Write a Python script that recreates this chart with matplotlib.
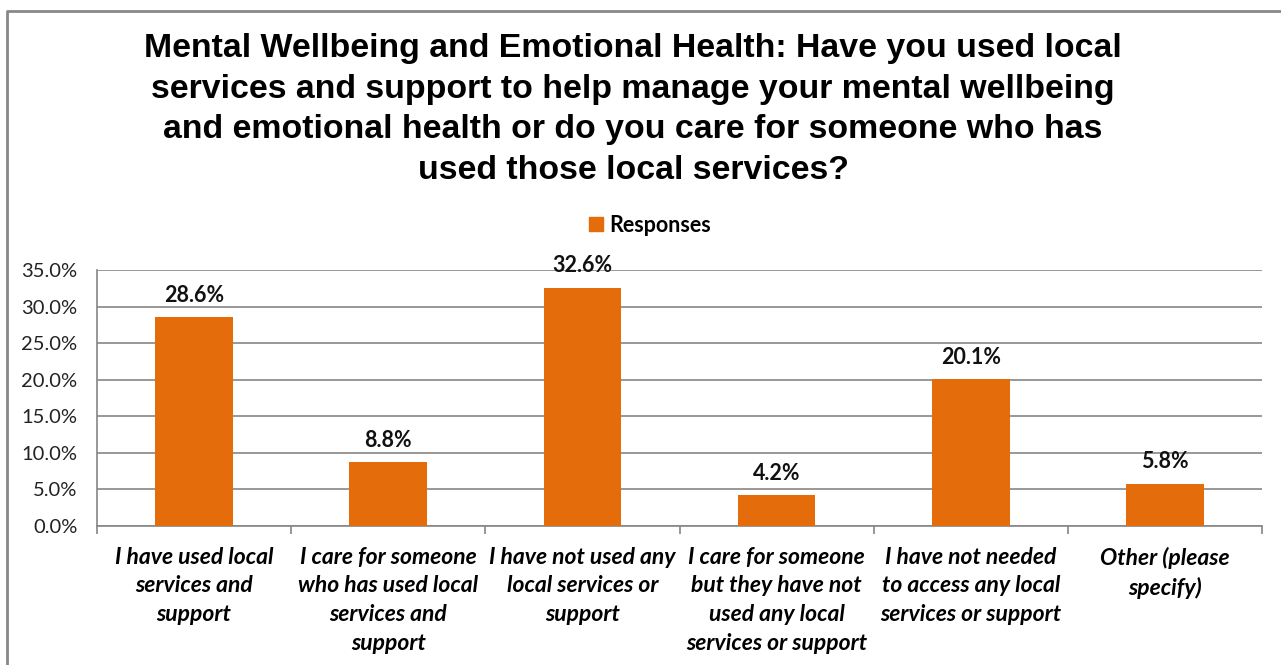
import matplotlib.pyplot as plt
from matplotlib.lines import Line2D
from matplotlib.patches import Patch

categories = [
    "I have used local\nservices and\nsupport",
    "I care for someone\nwho has used local\nservices and\nsupport",
    "I have not used any\nlocal services or\nsupport",
    "I care for someone\nbut they have not\nused any local\nservices or support",
    "I have not needed\nto access any local\nservices or support",
    "Other (please\nspecify)",
]
responses = [28.6, 8.8, 32.6, 4.2, 20.1, 5.8]
yticks = [0, 5, 10, 15, 20, 25, 30, 35]

title = ("Mental Wellbeing and Emotional Health: Have you used local\n"
         "services and support to help manage your mental wellbeing\n"
         "and emotional health or do you care for someone who has\n"
         "used those local services?")

orange = "#E46C0A"
grid_col = "#868686"
label_font = ["Lato", "DejaVu Sans"]

fig = plt.figure(figsize=(12.81, 6.65), dpi=100)
ax = fig.add_axes([97 / 1281, 1 - 526 / 665, (1262 - 97) / 1281, (526 - 270) / 665])

x = list(range(len(categories)))
bars = ax.bar(x, responses, width=0.4, color=orange, zorder=3)

ax.set_xlim(-0.5, len(categories) - 0.5)
ax.set_ylim(0, 35)
ax.set_yticks(yticks)
ax.set_yticklabels([f"{v:.1f}%" for v in yticks], fontsize=14.5, family=label_font, color="#222222")
ax.yaxis.grid(True, color=grid_col, linewidth=1.2, zorder=0)
ax.tick_params(axis="y", length=0, pad=14)

# category labels under the bars, ticks between categories
ax.set_xticks(x)
ax.set_xticklabels(categories, fontsize=16.5, fontweight="bold", style="italic",
                   family=label_font, linespacing=1.45)
ax.tick_params(axis="x", length=0, pad=15)
ax.set_xticks([i - 0.5 for i in range(len(categories) + 1)], minor=True)
ax.tick_params(axis="x", which="minor", length=6, width=1.2, color=grid_col)

for side in ["top", "right"]:
    ax.spines[side].set_visible(False)
ax.spines["left"].set_color(grid_col)
ax.spines["left"].set_linewidth(1.2)
ax.spines["bottom"].set_color(grid_col)
ax.spines["bottom"].set_linewidth(1.2)

for b, v in zip(bars, responses):
    ax.annotate(f"{v:.1f}%", (b.get_x() + b.get_width() / 2, v), xytext=(0, 8),
                textcoords="offset points", ha="center", va="bottom",
                fontsize=15.5, fontweight="bold", family=label_font, color="#111111")

fig.text(633 / 1281, 1 - 33 / 665, title, ha="center", va="top", fontsize=24.4,
         fontweight="bold", family="Liberation Sans", linespacing=1.4)

fig.legend(handles=[Patch(color=orange, label="Responses")], loc="center",
           bbox_to_anchor=(650 / 1281, 1 - 225 / 665), frameon=False,
           prop={"family": label_font, "weight": "bold", "size": 15.5},
           handlelength=0.65, handleheight=0.65, handletextpad=0.3)

# chart frame along the top and left
fig.add_artist(Line2D([7 / 1281, 7 / 1281, 1], [0, 1 - 11 / 665, 1 - 11 / 665],
                      transform=fig.transFigure, color="#888888", linewidth=2))

fig.savefig("out.png", dpi=100)
